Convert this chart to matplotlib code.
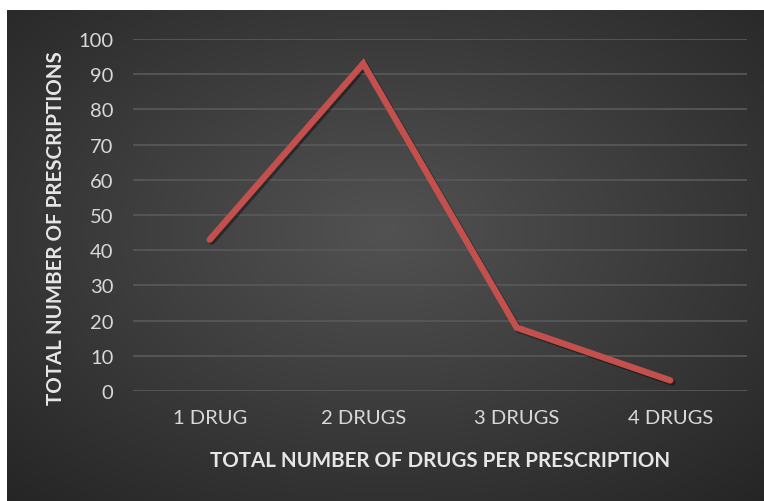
import numpy as np
import matplotlib
matplotlib.use("Agg")
import matplotlib.pyplot as plt
import matplotlib.patheffects as pe

categories = ["1 DRUG", "2 DRUGS", "3 DRUGS", "4 DRUGS"]
prescriptions = [43, 93, 18, 3]
y_ticks = [0, 10, 20, 30, 40, 50, 60, 70, 80, 90, 100]

plt.rcParams['font.family'] = ['Lato', 'DejaVu Sans']

W, H = 764, 502
fig = plt.figure(figsize=(W / 100, H / 100), dpi=100)
fig.patch.set_facecolor("white")

# dark panel with a soft radial gradient
bg = fig.add_axes([7 / W, 0, 1 - 7 / W, 1 - 11 / H])
bg.set_axis_off()
nx, ny = 400, 260
xx, yy = np.meshgrid(np.linspace(0, 1, nx), np.linspace(0, 1, ny))
cx, cy = 0.50, 0.45
r = np.sqrt(((xx - cx) / 0.75) ** 2 + ((yy - cy) / 0.75) ** 2)
r = np.clip(r, 0, 1)
inner = np.array([0x52, 0x52, 0x52]) / 255
outer = np.array([0x25, 0x25, 0x25]) / 255
img = inner[None, None, :] * (1 - r[..., None]) + outer[None, None, :] * r[..., None]
bg.imshow(img, aspect="auto", extent=[0, 1, 0, 1], origin="upper")
bg.set_xlim(0, 1)
bg.set_ylim(0, 1)

ax = fig.add_axes([133 / W, (H - 392) / H, (747 - 133) / W, (392 - 40) / H])
ax.patch.set_alpha(0)
x = np.arange(len(categories))
ax.plot(x, prescriptions, color="#c4504e", lw=4.6, solid_capstyle="round",
        solid_joinstyle="miter",
        path_effects=[pe.SimpleLineShadow(offset=(1.5, -1.5), shadow_color="black", alpha=0.4),
                      pe.Normal()], zorder=3)

ax.set_xlim(-0.5, len(categories) - 0.5)
ax.set_ylim(0, 100)
ax.set_yticks(y_ticks)
ax.set_xticks(x)
ax.set_xticklabels(categories)
for s in ax.spines.values():
    s.set_visible(False)
ax.grid(axis="y", color="#575757", lw=1.3)
ax.set_axisbelow(True)
ax.tick_params(axis="both", length=0, colors="#d9d9d9", labelsize=14.5)
ax.tick_params(axis="y", pad=14)
ax.tick_params(axis="x", pad=13)

ax.set_xlabel("TOTAL NUMBER OF DRUGS PER PRESCRIPTION", color="#e6e6e6",
              fontsize=14.8, fontweight="bold", labelpad=17)
ax.set_ylabel("TOTAL NUMBER OF PRESCRIPTIONS", color="#e6e6e6",
              fontsize=14.8, fontweight="bold")
ax.yaxis.set_label_coords(-0.109, 0.466)

fig.savefig("out.png", dpi=100)
